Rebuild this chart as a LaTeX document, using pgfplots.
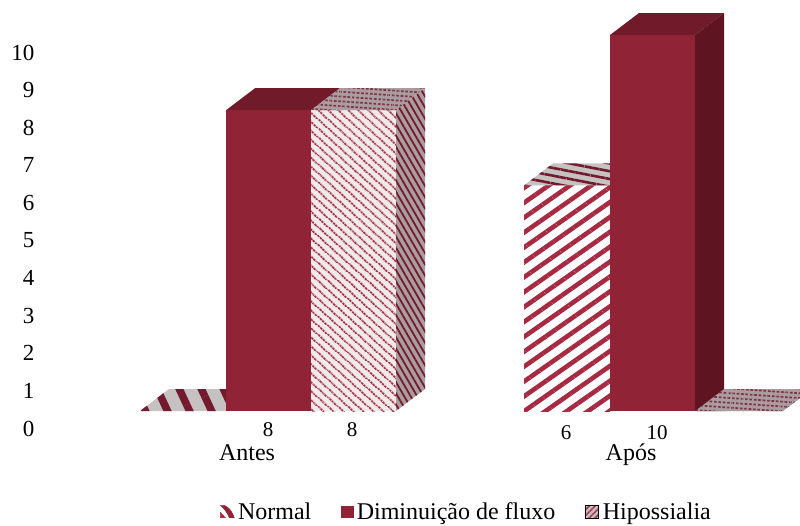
\documentclass[border=0pt]{standalone}
\usepackage{pgfplots}
\pgfplotsset{compat=1.18}
\usepackage{fontspec}
\setmainfont{Liberation Serif}
\usetikzlibrary{patterns.meta}

\definecolor{redfront}{HTML}{902335}
\definecolor{redtop}{HTML}{701A2A}
\definecolor{redside}{HTML}{5F1521}
\definecolor{stripe}{HTML}{A62A42}
\definecolor{stripefine}{HTML}{A8324A}
\definecolor{stripedark}{HTML}{741A2E}
\definecolor{greylight}{HTML}{C6C2C2}
\definecolor{greymid}{HTML}{A99DA0}
\definecolor{paleface}{HTML}{F0EBEB}

\tikzset{
  normalfront/.style={fill=white,postaction={pattern={Lines[angle=35,distance=12.2pt,line width=4.6pt]},pattern color=stripe}},
  normaltopwide/.style={fill=greylight,postaction={pattern={Lines[angle=-65,distance=20pt,line width=7.5pt]},pattern color=stripedark}},
  normaltopflat/.style={fill=greylight,postaction={pattern={Lines[angle=-11,distance=7.6pt,line width=2.6pt]},pattern color=stripedark}},
  hipofront/.style={fill=paleface,
    postaction={pattern={Lines[angle=-42,distance=6.4pt,line width=2.1pt]},pattern color=stripefine},
    postaction={pattern={Lines[angle=48,distance=3.2pt,line width=0.4pt]},pattern color=paleface}},
  hipotop/.style={fill=greymid,
    postaction={pattern={Lines[angle=-4,distance=4.8pt,line width=1.7pt]},pattern color=stripedark!90!white},
    postaction={pattern={Lines[angle=85,distance=4.4pt,line width=1.6pt]},pattern color=greymid}},
  hiposide/.style={fill=greymid,postaction={pattern={Lines[angle=-60,distance=5.6pt,line width=1.8pt]},pattern color=stripedark}},
}

\begin{document}
\begin{tikzpicture}
\begin{axis}[
  scale only axis,
  width=800pt, height=525pt,
  xmin=0, xmax=800,
  ymin=-3.0319, ymax=10.9309,
  axis line style={draw=none},
  tick style={draw=none},
  major tick length=0pt,
  ytick={0,1,2,3,4,5,6,7,8,9,10},
  xtick={247,631},
  xticklabels={Antes,Após},
  tick label style={font=\fontsize{23}{27}\selectfont},
  /pgf/number format/assume math mode=true,
  yticklabel style={anchor=east,xshift=38pt,yshift=-17.5pt},
  xticklabel style={anchor=base,yshift=64.5pt,font=\fontsize{24}{28}\selectfont},
  legend columns=3,
  legend style={at={(axis cs:466.5,-2.68)},anchor=center,draw=none,fill=none,
    font=\fontsize{24}{28}\selectfont,
    inner sep=0pt,
    /tikz/every even column/.append style={column sep=27.5pt},
    /tikz/every odd column/.append style={column sep=1.5pt}},
]
% Antes: Normal = 0 (floor only)
\addplot[forget plot,draw=none,normaltopwide] coordinates {(140,0) (169,0.585) (255,0.585) (226,0)} --cycle;
% Antes: Diminuicao de fluxo = 8
\addplot[forget plot,draw=none,fill=redfront] coordinates {(226,0) (311,0) (311,8) (226,8)} --cycle;
\addplot[forget plot,draw=none,fill=redtop] coordinates {(226,8) (255,8.585) (340,8.585) (311,8)} --cycle;
% Antes: Hipossialia = 8
\addplot[forget plot,draw=none,hipofront] coordinates {(311,0) (396,0) (396,8) (311,8)} --cycle;
\addplot[forget plot,draw=none,hipotop] coordinates {(311,8) (340,8.585) (425,8.585) (396,8)} --cycle;
\addplot[forget plot,draw=none,hiposide] coordinates {(396,0) (425,0.585) (425,8.585) (396,8)} --cycle;
% Apos: Normal = 6
\addplot[forget plot,draw=none,normalfront] coordinates {(524,0) (610,0) (610,6) (524,6)} --cycle;
\addplot[forget plot,draw=none,normaltopflat] coordinates {(524,6) (553,6.585) (639,6.585) (610,6)} --cycle;
% Apos: Hipossialia = 0 (floor only)
\addplot[forget plot,draw=none,hipotop] coordinates {(695,0) (724,0.585) (812,0.585) (783,0)} --cycle;
% Apos: Diminuicao de fluxo = 10
\addplot[forget plot,draw=none,fill=redfront] coordinates {(610,0) (695,0) (695,10) (610,10)} --cycle;
\addplot[forget plot,draw=none,fill=redtop] coordinates {(610,10) (639,10.585) (724,10.585) (695,10)} --cycle;
\addplot[forget plot,draw=none,fill=redside] coordinates {(695,0) (724,0.585) (724,10.585) (695,10)} --cycle;

% Value labels under the columns
\node[font=\fontsize{21}{25}\selectfont] at (axis cs:268,-0.49) {8};
\node[font=\fontsize{21}{25}\selectfont] at (axis cs:352,-0.49) {8};
\node[font=\fontsize{21}{25}\selectfont] at (axis cs:566,-0.57) {6};
\node[font=\fontsize{21}{25}\selectfont] at (axis cs:657,-0.57) {10};

\addlegendimage{legend image code/.code={
  \fill[redfront] (0pt,6.5pt) -- (4pt,6.5pt) .. controls (9pt,4pt) and (12pt,0pt) .. (14pt,-6pt) -- (9pt,-6pt) .. controls (7pt,-1pt) and (4pt,3pt) .. cycle;
  \fill[stripe] (0pt,-0.5pt) -- (5pt,-6pt) -- (0pt,-6pt) -- cycle;}}
\addlegendentry{Normal}
\addlegendimage{legend image code/.code={
  \fill[redfront] (2pt,-5.5pt) rectangle (14pt,6pt);}}
\addlegendentry{Diminuição de fluxo}
\addlegendimage{legend image code/.code={
  \fill[black!18!paleface] (0pt,-6pt) rectangle (13pt,6.5pt);
  \fill[pattern={Lines[angle=45,distance=4.2pt,line width=1.5pt]},pattern color=stripefine] (0pt,-6pt) rectangle (13pt,6.5pt);}}
\addlegendentry{Hipossialia}
\end{axis}
\end{tikzpicture}
\end{document}
